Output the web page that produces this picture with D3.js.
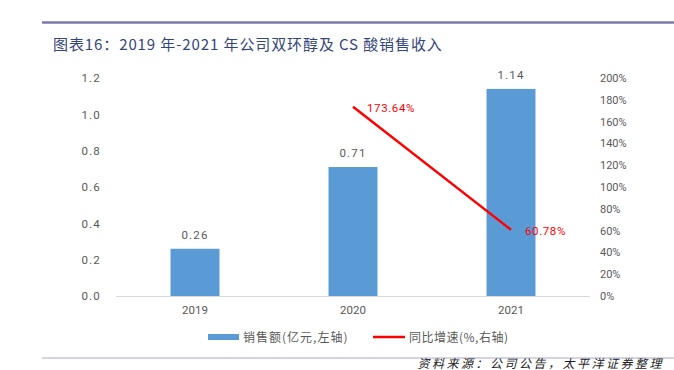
<!DOCTYPE html>
<html>
<head>
<meta charset="utf-8">
<script src="https://cdn.jsdelivr.net/npm/d3@7"></script>
<style>
  body { margin: 0; background: #fff; }
  svg { display: block; font-family: "Noto Sans CJK SC", "DejaVu Sans", sans-serif; }
</style>
</head>
<body>
<svg id="chart" width="674" height="370"></svg>
<script>
const years = ['2019', '2020', '2021'];
const sales = [0.26, 0.71, 1.14];
const growth = [null, 173.64, 60.78];
const leftTicks = [0, 0.2, 0.4, 0.6, 0.8, 1.0, 1.2];
const rightTicks = [0, 20, 40, 60, 80, 100, 120, 140, 160, 180, 200];

const svg = d3.select('#chart');
const grey = '#595959';

// header / footer rules
svg.append('line').attr('x1', 42).attr('x2', 674).attr('y1', 22.5).attr('y2', 22.5)
  .attr('stroke', '#7b7ba8').attr('stroke-width', 2.5);
svg.append('text').attr('x', 53).attr('y', 49.5)
  .attr('fill', '#34457a').attr('font-size', 15).attr('letter-spacing', 0.9)
  .text('图表16：2019 年-2021 年公司双环醇及 CS 酸销售收入');
svg.append('line').attr('x1', 42).attr('x2', 674).attr('y1', 358).attr('y2', 358)
  .attr('stroke', '#a9a9cc').attr('stroke-width', 1);
svg.append('text').attr('x', 664).attr('y', 368).attr('text-anchor', 'end')
  .attr('fill', '#222').attr('font-size', 12).attr('font-style', 'italic')
  .attr('letter-spacing', 2.5)
  .text('资料来源：公司公告，太平洋证券整理');

const x = d3.scaleBand().domain(years).range([116, 590]).paddingInner(0.69).paddingOuter(0.345);
const yL = d3.scaleLinear().domain([0, 1.2]).range([296, 78]);
const yR = d3.scaleLinear().domain([0, 200]).range([296, 78]);

// left axis
const axL = svg.append('g').attr('transform', 'translate(101,0)')
  .call(d3.axisLeft(yL).tickValues(leftTicks).tickFormat(d3.format('.1f')).tickSize(0).tickPadding(0));
axL.select('.domain').remove();
axL.selectAll('text').attr('fill', grey).attr('font-size', 11.5).attr('letter-spacing', 1.2)
  .attr('font-family', 'Roboto, sans-serif');

// right axis
const axR = svg.append('g').attr('transform', 'translate(600,0)')
  .call(d3.axisRight(yR).tickValues(rightTicks).tickFormat(d => d + '%').tickSize(0).tickPadding(0));
axR.select('.domain').remove();
axR.selectAll('text').attr('fill', grey).attr('font-size', 11)
  .attr('font-family', 'Roboto, sans-serif');

// bars
svg.append('g').selectAll('rect').data(years).join('rect')
  .attr('x', d => x(d)).attr('width', x.bandwidth())
  .attr('y', (d, i) => yL(sales[i])).attr('height', (d, i) => yL(0) - yL(sales[i]))
  .attr('fill', '#5b9bd5');

svg.append('g').selectAll('text').data(years).join('text')
  .attr('x', d => x(d) + x.bandwidth() / 2).attr('y', (d, i) => yL(sales[i]) - 10)
  .attr('text-anchor', 'middle').attr('fill', grey).attr('font-size', 11.5)
  .attr('letter-spacing', 1.2).attr('font-family', 'Roboto, sans-serif')
  .text((d, i) => sales[i].toFixed(2));

// baseline
svg.append('line').attr('x1', 116).attr('x2', 590).attr('y1', 296.5).attr('y2', 296.5)
  .attr('stroke', '#d9d9d9').attr('stroke-width', 1);

// x axis labels
const axX = svg.append('g').attr('transform', 'translate(0,304)')
  .call(d3.axisBottom(x).tickSize(0).tickPadding(0));
axX.select('.domain').remove();
axX.selectAll('text').attr('fill', grey).attr('font-size', 11.5).attr('dy', '0.9em')
  .attr('font-family', 'Roboto, sans-serif');

// growth line
const pts = years.map((d, i) => ({ year: d, v: growth[i] })).filter(p => p.v !== null);
svg.append('path').datum(pts)
  .attr('d', d3.line().x(p => x(p.year) + x.bandwidth() / 2).y(p => yR(p.v)))
  .attr('fill', 'none').attr('stroke', '#ff0000').attr('stroke-width', 2.5);

svg.append('g').selectAll('text').data(pts).join('text')
  .attr('x', p => x(p.year) + x.bandwidth() / 2 + 14).attr('y', p => yR(p.v) + 5)
  .attr('fill', '#ff0000').attr('font-size', 11.5).attr('letter-spacing', 0.6)
  .attr('font-family', 'Roboto, sans-serif')
  .text(p => p.v.toFixed(2) + '%');

// legend
const lg = svg.append('g').attr('transform', 'translate(0,337)');
lg.append('rect').attr('x', 208).attr('y', -3).attr('width', 31).attr('height', 6).attr('fill', '#5b9bd5');
lg.append('text').attr('x', 243).attr('y', 4.5).attr('fill', grey).attr('font-size', 12)
  .attr('letter-spacing', 1).text('销售额(亿元,左轴)');
lg.append('line').attr('x1', 373).attr('x2', 405).attr('y1', 0).attr('y2', 0)
  .attr('stroke', '#ff0000').attr('stroke-width', 2.5);
lg.append('text').attr('x', 409).attr('y', 4.5).attr('fill', grey).attr('font-size', 12)
  .attr('letter-spacing', 0.5).text('同比增速(%,右轴)');
</script>
</body>
</html>
